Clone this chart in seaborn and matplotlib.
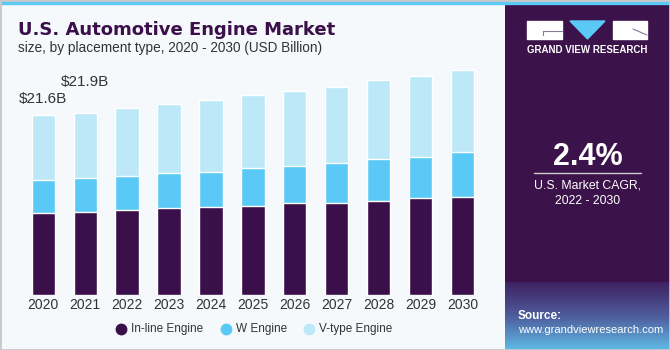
import numpy as np
import pandas as pd
import matplotlib.pyplot as plt
import seaborn as sns
from matplotlib.patches import Rectangle, Polygon
from matplotlib.colors import LinearSegmentedColormap

years = ['2020', '2021', '2022', '2023', '2024', '2025', '2026', '2027', '2028', '2029', '2030']
inline = [9.8, 10.0, 10.2, 10.4, 10.6, 10.7, 11.0, 11.1, 11.3, 11.6, 11.8]
w_engine = [4.0, 4.0, 4.1, 4.2, 4.2, 4.5, 4.5, 4.7, 5.0, 5.0, 5.3]
v_type = [7.8, 7.9, 8.2, 8.3, 8.6, 8.8, 9.0, 9.2, 9.5, 9.7, 9.9]
labels = {0: '$21.6B', 1: '$21.9B'}
label_offset = {0: 1.9, 1: 3.7}

df = pd.DataFrame({'year': years, 'inline': inline, 'w': w_engine, 'v': v_type})
df['s1'] = df['inline']
df['s2'] = df['inline'] + df['w']
df['s3'] = df['s2'] + df['v']

dark = '#3a0f4a'
mid = '#5bc9f5'
light = '#bde8f8'
bg = '#f5f9fc'

sns.set_theme(style='white')
plt.rcParams['font.family'] = ['Liberation Sans', 'DejaVu Sans']

fig = plt.figure(figsize=(6.7, 3.5), dpi=100)
fig.patch.set_facecolor(bg)

ax = fig.add_axes([22.35 / 670, 55 / 350, 461 / 670, 250 / 350])
ax.set_facecolor(bg)
# stacked bars: draw cumulative totals back to front
sns.barplot(data=df, x='year', y='s3', color=light, width=0.556, ax=ax, saturation=1)
sns.barplot(data=df, x='year', y='s2', color=mid, width=0.556, ax=ax, saturation=1)
sns.barplot(data=df, x='year', y='s1', color=dark, width=0.556, ax=ax, saturation=1)
ax.set_xlim(-0.5, 10.5)
ax.set_ylim(0, 30)
ax.set_xlabel('')
ax.set_ylabel('')
ax.set_yticks([])
sns.despine(ax=ax, left=True, bottom=True)
ax.tick_params(axis='x', length=0, pad=2, labelsize=10, labelcolor='#333333')

for i, txt in labels.items():
    ax.text(i, df['s3'][i] + label_offset[i], txt, ha='center', va='center',
            fontsize=11, color='#333333')

fig.text(18 / 670, 1 - 30 / 350, 'U.S. Automotive Engine Market', fontsize=13,
         fontweight='heavy', color=dark, va='center', family=['DejaVu Sans'])
fig.text(18 / 670, 1 - 48 / 350, 'size, by placement type, 2020 - 2030 (USD Billion)',
         fontsize=9.8, color='#333333', va='center')

# legend
leg_items = [('In-line Engine', dark, 121), ('W Engine', mid, 226), ('V-type Engine', light, 309)]
for name, col, x in leg_items:
    fig.add_artist(plt.Line2D([x / 670], [1 - 329 / 350], marker='o', markersize=7.5,
                              color=col, linestyle='none'))
    fig.text((x + 10) / 670, 1 - 329 / 350, name, fontsize=8.5, color='#333333',
             va='center')

# right panel
pan = fig.add_axes([505 / 670, 0, 165 / 670, 1])
pan.axis('off')
pan.add_patch(Rectangle((505, 0), 165, 350, color='#3b1249', zorder=0))
grad = np.linspace(0, 1, 100)[:, None]
cmap = LinearSegmentedColormap.from_list('g', ['#3f2262', '#4e5c9c', '#5fbae6'])
pan.imshow(grad, extent=(505, 670, 350, 282), aspect='auto', cmap=cmap, zorder=1)
pan.set_xlim(505, 670)
pan.set_ylim(350, 0)
# logo
pan.add_patch(Rectangle((527, 21), 35, 18, color='white', zorder=2))
pan.plot([543, 562], [31, 31], color='#8a7a99', lw=0.8, zorder=3)
pan.plot([543, 543], [31, 35], color='#8a7a99', lw=0.8, zorder=3)
pan.add_patch(Polygon([(570, 21), (605, 21), (587.5, 39)], color=mid, zorder=2))
pan.add_patch(Rectangle((613, 21), 34, 18, color='white', zorder=2))
pan.plot([633, 647], [29, 35], color='#8a7a99', lw=0.8, zorder=3)
pan.text(587.5, 50, 'GRAND VIEW RESEARCH', color='white', fontsize=7, fontweight='bold',
         ha='center', va='center', zorder=3)
pan.text(587.5, 157, '2.4%', color='white', fontsize=22, fontweight='bold',
         ha='center', va='center', zorder=3)
pan.plot([534, 641], [173, 173], color='#d0d0d0', lw=1, zorder=3)
pan.text(587.5, 185, 'U.S. Market CAGR,', color='white', fontsize=8.8, ha='center',
         va='center', zorder=3)
pan.text(587.5, 201, '2022 - 2030', color='white', fontsize=8.8, ha='center',
         va='center', zorder=3)
pan.text(518, 316, 'Source:', color='white', fontsize=8.5, fontweight='bold', va='center',
         zorder=3)
pan.text(518, 330, 'www.grandviewresearch.com', color='white', fontsize=8, va='center',
         zorder=3)

# top line and border
fig.add_artist(Rectangle((0, 1 - 4 / 350), 1, 4 / 350, transform=fig.transFigure, color=mid))
fig.add_artist(Rectangle((0, 0), 1, 1, transform=fig.transFigure, fill=False,
                         edgecolor='#c8c8c8', lw=2))

fig.savefig('out.png', dpi=100, facecolor=bg)
